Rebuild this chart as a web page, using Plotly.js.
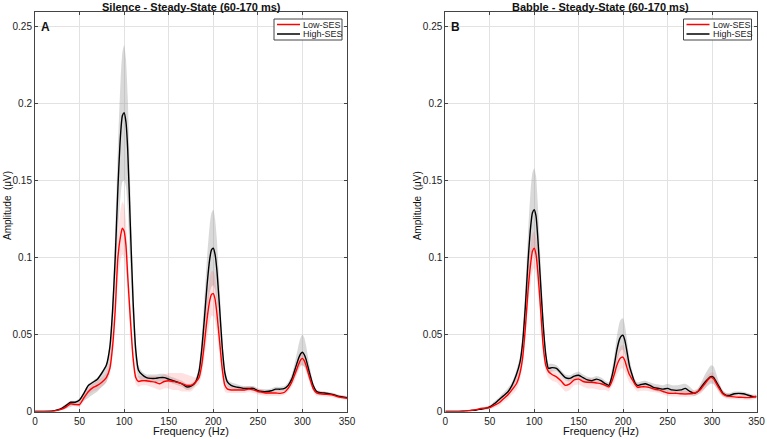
<!DOCTYPE html>
<html>
<head>
<meta charset="utf-8">
<script src="https://cdn.plot.ly/plotly-3.0.1.min.js"></script>
<style>html,body{margin:0;padding:0;background:#fff;}#chart{width:767px;height:439px;}</style>
</head>
<body>
<div id="chart"></div>
<script>
// Frequency (Hz)
const freq = [0,10,20,25,30,35,40,45,50,55,
  60,65,70,75,80,84,87,90,93,96,
  98,100,102,104,107,110,113,116,120,125,
  130,135,140,145,150,155,160,165,170,175,
  180,184,187,190,193,196,198,200,202,204,
  207,210,213,216,220,225,230,235,240,245,
  250,255,260,265,270,275,280,284,288,292,
  296,298,300,302,304,308,312,316,320,325,
  330,335,340,345,350];

// Panel A: Silence - High-SES
const silenceHighMean = [0,0,0.0003,0.001,0.002,0.004,0.006,0.006,0.0075,0.012,
  0.017,0.019,0.021,0.025,0.030,0.042,0.065,0.100,0.145,0.180,
  0.192,0.194,0.188,0.170,0.120,0.072,0.040,0.027,0.024,0.022,
  0.0215,0.0215,0.022,0.022,0.021,0.020,0.019,0.018,0.016,0.0165,
  0.019,0.026,0.040,0.060,0.082,0.099,0.105,0.106,0.102,0.092,
  0.068,0.042,0.025,0.019,0.017,0.016,0.0155,0.015,0.015,0.015,
  0.0135,0.013,0.013,0.0135,0.0145,0.0145,0.015,0.017,0.021,0.028,
  0.035,0.0375,0.0385,0.037,0.034,0.025,0.017,0.013,0.0122,0.012,
  0.0115,0.011,0.010,0.0095,0.009];
const silenceHighUpper = [0,0,0.0005,0.0015,0.003,0.005,0.007,0.007,0.0085,0.013,
  0.018,0.020,0.022,0.026,0.031,0.046,0.074,0.118,0.172,0.215,
  0.233,0.238,0.229,0.205,0.145,0.086,0.047,0.030,0.026,0.024,
  0.024,0.024,0.0245,0.0245,0.023,0.022,0.021,0.020,0.018,0.018,
  0.021,0.030,0.048,0.073,0.100,0.121,0.129,0.131,0.125,0.112,
  0.082,0.050,0.029,0.021,0.019,0.018,0.017,0.0165,0.0165,0.0165,
  0.015,0.0145,0.0145,0.015,0.016,0.016,0.0165,0.019,0.024,0.033,
  0.044,0.048,0.050,0.048,0.043,0.030,0.019,0.014,0.0135,0.013,
  0.0125,0.012,0.011,0.0105,0.010];
const silenceHighLower = [0,0,0,0.0005,0.001,0.002,0.003,0.004,0.005,0.007,
  0.009,0.011,0.013,0.016,0.019,0.028,0.050,0.080,0.115,0.140,
  0.149,0.150,0.146,0.132,0.094,0.057,0.031,0.022,0.020,0.019,
  0.019,0.019,0.0195,0.0195,0.019,0.018,0.017,0.016,0.014,0.0145,
  0.017,0.022,0.032,0.047,0.064,0.077,0.081,0.082,0.079,0.071,
  0.053,0.033,0.020,0.016,0.015,0.014,0.014,0.0135,0.0135,0.0135,
  0.012,0.0115,0.0115,0.012,0.013,0.013,0.0135,0.015,0.018,0.023,
  0.028,0.030,0.030,0.029,0.027,0.020,0.014,0.011,0.011,0.011,
  0.0105,0.010,0.009,0.0085,0.008];

// Panel A: Silence - Low-SES
const silenceLowMean = [0,0,0.0002,0.0007,0.0015,0.003,0.005,0.0045,0.0045,0.009,
  0.013,0.0155,0.017,0.019,0.022,0.028,0.042,0.066,0.100,0.114,
  0.119,0.117,0.108,0.088,0.060,0.035,0.022,0.0195,0.020,0.020,
  0.0195,0.019,0.018,0.0195,0.020,0.0195,0.019,0.018,0.017,0.017,
  0.019,0.022,0.030,0.044,0.060,0.072,0.076,0.0765,0.073,0.064,
  0.046,0.028,0.017,0.0145,0.014,0.014,0.014,0.014,0.0145,0.014,
  0.013,0.0125,0.012,0.012,0.012,0.0118,0.0125,0.015,0.019,0.025,
  0.031,0.0335,0.0345,0.033,0.030,0.022,0.015,0.012,0.0115,0.0112,
  0.011,0.0105,0.0095,0.009,0.0086];
const silenceLowUpper = [0,0,0.0004,0.001,0.002,0.004,0.006,0.0055,0.006,0.011,
  0.015,0.018,0.020,0.022,0.025,0.032,0.048,0.075,0.114,0.131,
  0.136,0.134,0.124,0.101,0.069,0.041,0.026,0.023,0.023,0.023,
  0.023,0.023,0.023,0.024,0.025,0.025,0.025,0.025,0.024,0.023,
  0.022,0.026,0.036,0.053,0.072,0.086,0.091,0.091,0.087,0.076,
  0.055,0.034,0.021,0.017,0.016,0.016,0.016,0.016,0.0165,0.016,
  0.015,0.0145,0.014,0.014,0.014,0.0135,0.014,0.017,0.022,0.029,
  0.035,0.038,0.039,0.037,0.034,0.025,0.017,0.014,0.013,0.0125,
  0.012,0.0115,0.0105,0.010,0.0096];
const silenceLowLower = [0,0,0,0.0004,0.001,0.002,0.004,0.0035,0.003,0.007,
  0.011,0.013,0.014,0.016,0.019,0.024,0.036,0.057,0.086,0.098,
  0.102,0.100,0.092,0.075,0.051,0.029,0.018,0.016,0.017,0.017,
  0.016,0.015,0.014,0.015,0.015,0.014,0.014,0.013,0.013,0.013,
  0.016,0.018,0.024,0.035,0.048,0.058,0.062,0.062,0.059,0.052,
  0.037,0.022,0.013,0.012,0.012,0.012,0.012,0.012,0.0125,0.012,
  0.011,0.0105,0.010,0.010,0.010,0.010,0.011,0.013,0.016,0.021,
  0.027,0.029,0.030,0.029,0.026,0.019,0.013,0.010,0.010,0.0098,
  0.0095,0.009,0.0085,0.008,0.0076];

// Panel B: Babble - High-SES
const babbleHighMean = [0,0,0.0002,0.0004,0.0007,0.001,0.0015,0.002,0.003,0.005,
  0.0075,0.010,0.0125,0.017,0.024,0.032,0.045,0.068,0.097,0.120,
  0.129,0.131,0.127,0.113,0.085,0.057,0.037,0.028,0.0285,0.028,
  0.025,0.022,0.0215,0.023,0.0235,0.022,0.0205,0.020,0.021,0.020,
  0.018,0.017,0.022,0.030,0.040,0.047,0.049,0.0495,0.046,0.040,
  0.030,0.024,0.019,0.017,0.0175,0.018,0.017,0.0155,0.015,0.0145,
  0.015,0.014,0.0137,0.014,0.015,0.013,0.0118,0.013,0.016,0.019,
  0.0215,0.0225,0.0228,0.022,0.020,0.016,0.012,0.0105,0.0105,0.0115,
  0.0118,0.0115,0.0107,0.0098,0.0095];
const babbleHighUpper = [0,0,0.0004,0.0007,0.001,0.0015,0.002,0.003,0.004,0.0065,
  0.009,0.012,0.015,0.019,0.027,0.036,0.052,0.080,0.115,0.144,
  0.155,0.158,0.153,0.135,0.100,0.066,0.042,0.031,0.031,0.030,
  0.027,0.024,0.0235,0.025,0.026,0.024,0.0225,0.022,0.023,0.022,
  0.020,0.019,0.026,0.036,0.049,0.058,0.060,0.0605,0.056,0.048,
  0.035,0.027,0.021,0.019,0.0195,0.020,0.019,0.018,0.0175,0.017,
  0.018,0.017,0.017,0.0175,0.018,0.016,0.0135,0.015,0.019,0.024,
  0.028,0.0295,0.030,0.029,0.026,0.019,0.014,0.012,0.012,0.013,
  0.013,0.0128,0.012,0.011,0.0105];
const babbleHighLower = [0,0,0,0.0001,0.0004,0.0006,0.001,0.0012,0.002,0.0035,
  0.006,0.008,0.010,0.014,0.020,0.027,0.038,0.057,0.081,0.099,
  0.105,0.106,0.103,0.092,0.070,0.048,0.032,0.025,0.026,0.026,
  0.023,0.020,0.0195,0.021,0.021,0.020,0.0185,0.018,0.019,0.018,
  0.016,0.015,0.019,0.025,0.032,0.038,0.040,0.040,0.037,0.032,
  0.025,0.021,0.017,0.015,0.0155,0.016,0.015,0.0135,0.013,0.0125,
  0.0125,0.012,0.0115,0.012,0.012,0.011,0.010,0.011,0.013,0.015,
  0.017,0.018,0.018,0.0175,0.016,0.013,0.010,0.009,0.009,0.010,
  0.0105,0.010,0.0095,0.0087,0.0085];

// Panel B: Babble - Low-SES
const babbleLowMean = [0,0,0.0002,0.0005,0.0008,0.0012,0.002,0.0022,0.0025,0.004,
  0.0055,0.008,0.0105,0.014,0.018,0.025,0.035,0.054,0.078,0.096,
  0.104,0.106,0.102,0.091,0.068,0.043,0.030,0.026,0.024,0.0225,
  0.020,0.017,0.018,0.0205,0.021,0.0195,0.019,0.019,0.0185,0.018,
  0.017,0.016,0.019,0.024,0.030,0.034,0.0352,0.0352,0.033,0.029,
  0.024,0.021,0.018,0.0158,0.016,0.016,0.0155,0.0145,0.014,0.013,
  0.012,0.0118,0.0118,0.0115,0.0114,0.0115,0.012,0.013,0.015,0.018,
  0.021,0.022,0.022,0.021,0.019,0.015,0.0115,0.0102,0.0098,0.0095,
  0.0093,0.0092,0.009,0.0092,0.0099];
const babbleLowUpper = [0,0,0.0004,0.0008,0.0012,0.0018,0.0028,0.003,0.0035,0.0055,
  0.0075,0.010,0.013,0.017,0.022,0.029,0.040,0.061,0.088,0.108,
  0.115,0.117,0.113,0.101,0.076,0.049,0.034,0.029,0.027,0.0255,
  0.023,0.020,0.021,0.023,0.0235,0.022,0.0215,0.0215,0.021,0.0205,
  0.019,0.018,0.022,0.029,0.036,0.041,0.043,0.043,0.040,0.035,
  0.028,0.024,0.021,0.018,0.018,0.018,0.0175,0.0165,0.016,0.015,
  0.014,0.0138,0.0138,0.0135,0.0134,0.0135,0.014,0.015,0.018,0.021,
  0.024,0.025,0.0255,0.025,0.022,0.018,0.0135,0.012,0.0115,0.011,
  0.0108,0.0107,0.0105,0.0107,0.0114];
const babbleLowLower = [0,0,0,0.0002,0.0004,0.0007,0.0012,0.0014,0.0015,0.0025,
  0.0035,0.006,0.008,0.011,0.014,0.021,0.030,0.047,0.068,0.084,
  0.091,0.093,0.090,0.080,0.060,0.037,0.026,0.022,0.020,0.019,
  0.016,0.013,0.014,0.017,0.0175,0.016,0.015,0.015,0.0145,0.014,
  0.014,0.013,0.016,0.019,0.024,0.027,0.028,0.028,0.026,0.023,
  0.019,0.017,0.015,0.013,0.0135,0.0135,0.013,0.0125,0.012,0.011,
  0.010,0.0098,0.0098,0.0095,0.0094,0.0095,0.010,0.011,0.012,0.015,
  0.018,0.019,0.019,0.018,0.016,0.012,0.0095,0.0084,0.008,0.008,
  0.0078,0.0077,0.0075,0.0077,0.0084];

const groupNames = ['Low-SES', 'High-SES'];
const groupColors = ['#ff0000', '#000000'];
const panelTitles = ['Silence - Steady-State (60-170 ms)', 'Babble - Steady-State (60-170 ms)'];
const panelLetters = ['A', 'B'];
const xTicks = [0, 50, 100, 150, 200, 250, 300, 350];
const yTicks = [0, 0.05, 0.1, 0.15, 0.2, 0.25];

const FONT = '"Liberation Sans", Arial, Helvetica, sans-serif';
const W = 767, H = 439;
const px = v => v / W;
const py = v => (H - v) / H;

const panels = [
  {xa: 'x', ya: 'y', high: [silenceHighMean, silenceHighLower, silenceHighUpper], low: [silenceLowMean, silenceLowLower, silenceLowUpper]},
  {xa: 'x2', ya: 'y2', high: [babbleHighMean, babbleHighLower, babbleHighUpper], low: [babbleLowMean, babbleLowLower, babbleLowUpper]}
];

const traces = [];
const sm = 0.6;
panels.forEach(p => {
  [[p.high, 'rgba(150,150,150,0.36)'], [p.low, 'rgba(255,80,80,0.17)']].forEach(([s, col]) => {
    traces.push({x: freq, y: s[1], xaxis: p.xa, yaxis: p.ya, mode: 'lines', line: {width: 0, shape: 'spline', smoothing: sm}, showlegend: false, hoverinfo: 'skip'});
    traces.push({x: freq, y: s[2], xaxis: p.xa, yaxis: p.ya, mode: 'lines', line: {width: 0, shape: 'spline', smoothing: sm}, fill: 'tonexty', fillcolor: col, showlegend: false, hoverinfo: 'skip'});
  });
  traces.push({x: freq, y: p.high[0], xaxis: p.xa, yaxis: p.ya, mode: 'lines', name: groupNames[1], showlegend: false, line: {color: groupColors[1], width: 1.4, shape: 'spline', smoothing: sm}});
  traces.push({x: freq, y: p.low[0], xaxis: p.xa, yaxis: p.ya, mode: 'lines', name: groupNames[0], showlegend: false, line: {color: groupColors[0], width: 1.4, shape: 'spline', smoothing: sm}});
});

const axisCommon = {
  showgrid: true, gridcolor: '#e2e2e2', gridwidth: 1,
  zeroline: false, showline: true, linecolor: '#444', linewidth: 1, mirror: 'ticks',
  ticks: 'inside', ticklen: 3, tickcolor: '#444',
  tickfont: {family: FONT, size: 10, color: '#222'}
};
const xaxis = (d, anchor) => Object.assign({}, axisCommon, {domain: d, anchor: anchor, range: [0, 350], tickvals: xTicks, ticktext: xTicks.map(String)});
const yaxis = anchor => Object.assign({}, axisCommon, {domain: [py(411.5), py(12)], anchor: anchor, range: [0, 0.2594], tickvals: yTicks, ticktext: yTicks.map(String)});

const ann = [];
const shapes = [];
const panelX = [[35, 347], [445.3, 756.5]];
panelX.forEach((pxr, i) => {
  const cx = (pxr[0] + pxr[1]) / 2;
  ann.push({xref: 'paper', yref: 'paper', x: px(cx), y: py(6.5), xanchor: 'center', yanchor: 'middle', showarrow: false,
    text: '<b>' + panelTitles[i] + '</b>', font: {family: FONT, size: 11, color: '#111'}});
  ann.push({xref: 'paper', yref: 'paper', x: px(cx), y: py(431), xanchor: 'center', yanchor: 'middle', showarrow: false,
    text: 'Frequency (Hz)', font: {family: FONT, size: 11, color: '#111'}});
  ann.push({xref: 'paper', yref: 'paper', x: px(pxr[0] - 28), y: py(206), xanchor: 'center', yanchor: 'middle', showarrow: false, textangle: -90,
    text: 'Amplitude  (μV)', font: {family: FONT, size: 10, color: '#111'}});
  ann.push({xref: 'paper', yref: 'paper', x: px(pxr[0] + 4), y: py(27), xanchor: 'left', yanchor: 'middle', showarrow: false,
    text: '<b>' + panelLetters[i] + '</b>', font: {family: FONT, size: 12, color: '#111'}});
  // legend box
  const lx1 = pxr[1] - 5, lx0 = lx1 - 68;
  shapes.push({type: 'rect', xref: 'paper', yref: 'paper', x0: px(lx0), x1: px(lx1), y0: py(40), y1: py(19),
    line: {color: '#444', width: 1}, fillcolor: '#ffffff', layer: 'above'});
  groupNames.forEach((nm, k) => {
    const yy = 24.5 + k * 9.5;
    shapes.push({type: 'line', xref: 'paper', yref: 'paper', x0: px(lx0 + 3), x1: px(lx0 + 26), y0: py(yy), y1: py(yy),
      line: {color: groupColors[k], width: 1.5}, layer: 'above'});
    ann.push({xref: 'paper', yref: 'paper', x: px(lx0 + 28), y: py(yy), xanchor: 'left', yanchor: 'middle', showarrow: false,
      borderpad: 0, text: nm, font: {family: FONT, size: 9, color: '#222'}});
  });
});

const layout = {
  width: W, height: H,
  margin: {l: 0, r: 0, t: 0, b: 0},
  paper_bgcolor: '#ffffff', plot_bgcolor: '#ffffff',
  font: {family: FONT, size: 10, color: '#222'},
  xaxis: xaxis([px(35), px(347)], 'y'),
  yaxis: yaxis('x'),
  xaxis2: xaxis([px(445.3), px(756.5)], 'y2'),
  yaxis2: yaxis('x2'),
  annotations: ann,
  shapes: shapes,
  showlegend: false
};

Plotly.newPlot('chart', traces, layout, {displayModeBar: false, staticPlot: true}).then(() => {
  // ensure legend text draws above legend box
  const gd = document.getElementById('chart');
  const lay = gd.querySelector('.layer-above .shapelayer');
});
</script>
</body>
</html>
